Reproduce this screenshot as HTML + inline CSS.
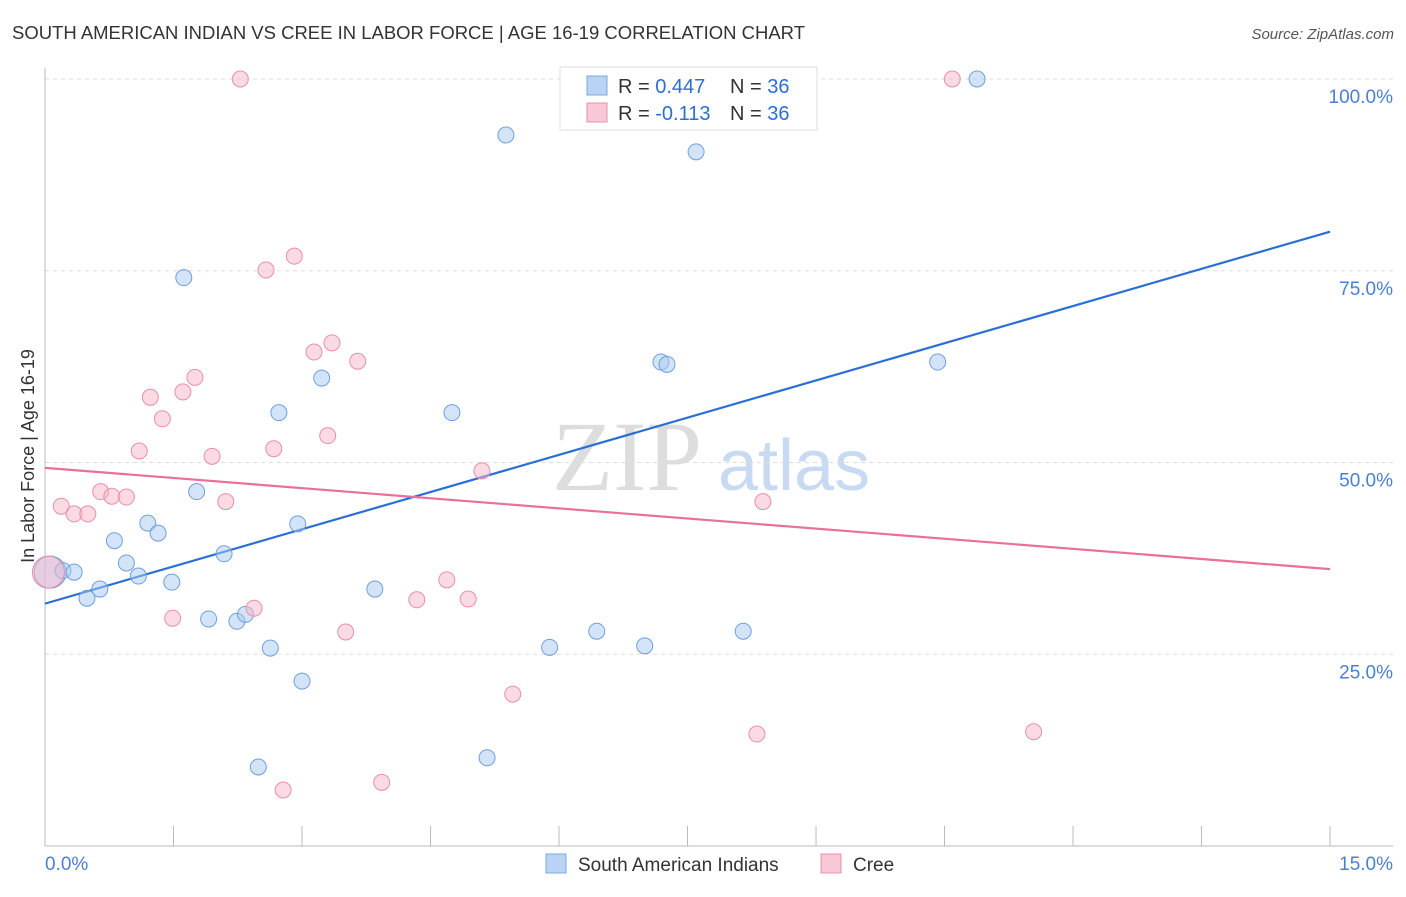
<!DOCTYPE html>
<html><head><meta charset="utf-8"><style>
body{margin:0;background:#fff;font-family:"Liberation Sans",sans-serif;}
svg text{font-family:"Liberation Sans",sans-serif;}
</style></head><body>
<svg id="chart" width="1406" height="892" xmlns="http://www.w3.org/2000/svg">
<text x="12" y="39" font-size="18" fill="#333" textLength="793" lengthAdjust="spacingAndGlyphs">SOUTH AMERICAN INDIAN VS CREE IN LABOR FORCE | AGE 16-19 CORRELATION CHART</text>
<text x="1394" y="39" font-size="15" fill="#555" font-style="italic" text-anchor="end">Source: ZipAtlas.com</text>
<text x="34" y="456" font-size="18" fill="#333" transform="rotate(-90 34 456)" text-anchor="middle">In Labor Force | Age 16-19</text>
<g><text x="552" y="490" font-size="100" fill="#ddd" style="font-family:'Liberation Serif',serif">ZIP</text><text x="718" y="490" font-size="72" fill="#c8daf2">atlas</text></g>
<g id="grid"></g><g id="axes"></g><g id="trends"></g><g id="pts"></g>
<g>
<rect x="560" y="67" width="257" height="63" fill="#fff" stroke="#ddd"/>
<rect x="587" y="76" width="20" height="19" fill="#b9d3f5" stroke="#7aa8e0"/>
<text x="618" y="93" font-size="20" fill="#333">R = <tspan fill="#2a6fd6">0.447</tspan></text>
<text x="730" y="93" font-size="20" fill="#333">N = <tspan fill="#2a6fd6">36</tspan></text>
<rect x="587" y="103" width="20" height="19" fill="#f9c8d6" stroke="#e890a8"/>
<text x="618" y="120" font-size="20" fill="#333">R = <tspan fill="#2a6fd6">-0.113</tspan></text>
<text x="730" y="120" font-size="20" fill="#333">N = <tspan fill="#2a6fd6">36</tspan></text>
</g>
<g>
<rect x="546" y="854" width="20" height="19" fill="#b9d3f5" stroke="#7aa8e0"/>
<text x="578" y="871" font-size="19" fill="#333">South American Indians</text>
<rect x="821" y="854" width="20" height="19" fill="#f9c8d6" stroke="#e890a8"/>
<text x="853" y="871" font-size="19" fill="#333">Cree</text>
</g>
</svg>
<script>
const blueX=[0.06,0.21,0.34,0.49,0.64,0.81,0.95,1.09,1.20,1.32,1.48,1.62,1.77,1.91,2.09,2.24,2.34,2.63,2.73,2.95,3.00,3.23,2.49,3.85,4.75,5.16,5.38,5.89,6.44,7.00,7.19,7.26,7.60,8.15,10.42,10.88];
const blueY=[35.7,35.9,35.7,32.3,33.5,39.8,36.9,35.2,42.1,40.8,34.4,74.1,46.2,29.6,38.1,29.3,30.2,25.8,56.5,42.0,21.5,61.0,10.3,33.5,56.5,11.5,92.7,25.9,28.0,26.1,63.1,62.8,90.5,28.0,63.1,100];
const pinkX=[0.04,0.19,0.34,0.50,0.65,0.78,0.95,1.10,1.23,1.37,1.49,1.61,1.75,1.95,2.11,2.28,2.44,2.58,2.67,2.78,2.91,3.14,3.30,3.35,3.51,3.65,3.93,4.34,4.69,4.94,5.10,5.46,8.31,8.38,10.59,11.54];
const pinkY=[35.7,44.3,43.3,43.3,46.2,45.6,45.5,51.5,58.5,55.7,29.7,59.2,61.1,50.8,44.9,100,31.0,75.1,51.8,7.3,76.9,64.4,53.5,65.6,27.9,63.2,8.3,32.1,34.7,32.2,48.9,19.8,14.6,44.9,100,14.9];
const blueTrend=[31.6,80.1];
const pinkTrend=[49.3,36.1];
const yTicks=[25,50,75,100];
const yTickLabels=["25.0%","50.0%","75.0%","100.0%"];
const xTicks=[0,1.5,3,4.5,6,7.5,9,10.5,12,13.5,15];
const NS="http://www.w3.org/2000/svg";
const X=v=>45+v*85.67, Y=v=>846-v*7.67;
function mk(tag,attrs,parent){const e=document.createElementNS(NS,tag);for(const k in attrs)e.setAttribute(k,attrs[k]);document.getElementById(parent).appendChild(e);return e;}
yTicks.forEach((t,i)=>{
 const l=mk('line',{x1:45,x2:1393,y1:Y(t),y2:Y(t),stroke:'#ddd','stroke-dasharray':'4,4'},'grid');
 
 
 const tx=mk('text',{x:1393,y:Y(t)+24,'font-size':19,fill:'#4a7fd4','text-anchor':'end'},'grid');
 tx.textContent=yTickLabels[i];
 
 
});
const ax=mk('line',{x1:45,x2:45,y1:68,y2:846,stroke:'#bbb'},'axes');


const bx=mk('line',{x1:45,x2:1393,y1:846,y2:846,stroke:'#bbb'},'axes');


xTicks.forEach(t=>{const l=mk('line',{x1:X(t),x2:X(t),y1:826,y2:846,stroke:'#bbb'},'axes');
 
 });
const xl=mk('text',{x:45,y:870,'font-size':19,fill:'#4a7fd4'},'axes');xl.textContent='0.0%';


const xr=mk('text',{x:1393,y:870,'font-size':19,fill:'#4a7fd4','text-anchor':'end'},'axes');xr.textContent='15.0%';


function drawPts(xs,ys,fill,stroke,name){xs.forEach((x,i)=>{
 const c=mk('circle',{cx:X(x),cy:Y(ys[i]),r:i===0?16:8,fill:fill,'fill-opacity':0.5,stroke:stroke,'stroke-width':1},'pts');
 
 });}
drawPts(blueX,blueY,'#a9c9f2','#6f9fdc','south-american-indian-point');
drawPts(pinkX,pinkY,'#f7b6c9','#e890a8','cree-point');
const bt=mk('line',{x1:X(0),y1:Y(blueTrend[0]),x2:X(15),y2:Y(blueTrend[1]),stroke:'#2a6fd6','stroke-width':2.2},'trends');


const pt=mk('line',{x1:X(0),y1:Y(pinkTrend[0]),x2:X(15),y2:Y(pinkTrend[1]),stroke:'#e8709a','stroke-width':2.2},'trends');


</script>
</body></html>
